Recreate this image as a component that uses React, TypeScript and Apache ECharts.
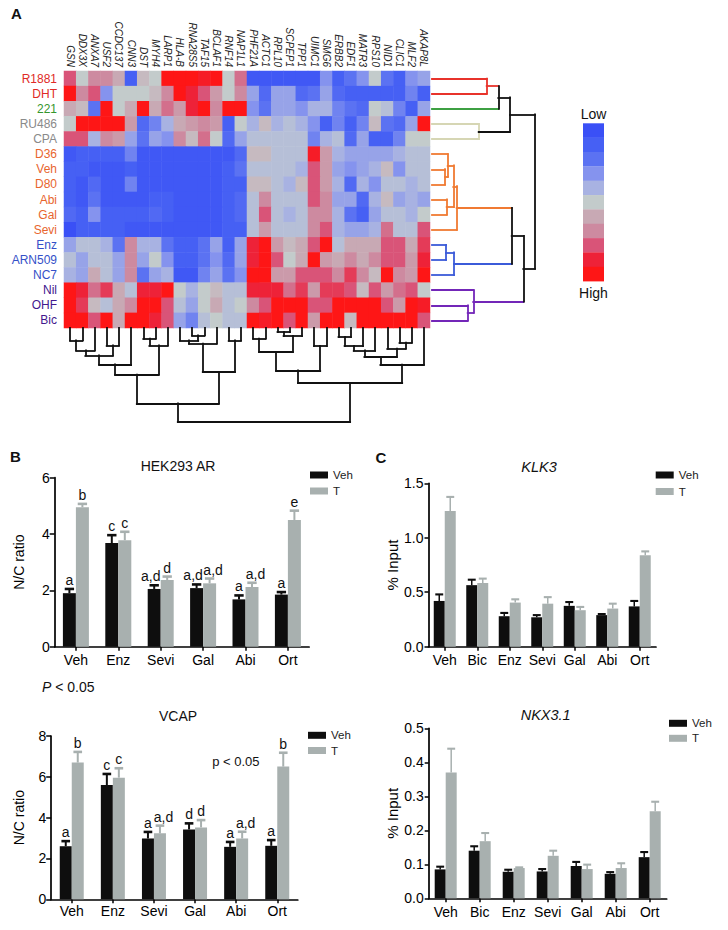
import React, { useEffect, useRef } from "react";
import * as echarts from "echarts";

const FONT = '"Liberation Sans", Arial, Helvetica, sans-serif';

// ---------------- Panel A data ----------------
const genes = ["GSN","DDX3X","ANXA7","USF2","CCDC137","CNN3","DST","MYH4","LARP1","HLA-B","RNA28S5","TAF15","BCLAF1","RNF14","NAP1L1","PHF21A","ACTC1","RPL10","SCPEP1","TPP1","UIMC1","SMG6","ERBB2","EDF1","MATR3","RPS10","NID1","CLIC1","MLF2","AKAP8L"];
const treatments = ["R1881","DHT","221","RU486","CPA","D36","Veh","D80","Abi","Gal","Sevi","Enz","ARN509","NC7","Nil","OHF","Bic"];
const treatmentGroup = [0,0,1,2,2,3,3,3,3,3,3,4,4,4,5,5,5];

const heatRows: number[][] = [
  [3,0,2,2,1,-4,0.5,0,5,5,5,4.5,5,0,2.5,-4.5,-4.5,-4.5,-4.5,-4.5,-4.5,-2,-4,-3,-2,0,-3,-4,-2,-1.5],
  [5,2,3,-2,0,0,0,0.5,2,5,4,3,1.5,0,2,-1.5,-3.5,-1.5,-1.5,-3.5,-3,-1.5,-3.5,-4,-4,-4,-4,-4,-2.5,-4],
  [1,0.5,-3,5,0,1,5,1,2.5,1.5,4,5,2,5,5,-2,-3,-1.5,-1.5,-2,-1,-1,-2.5,-3,-3.5,0,-0.5,-2.5,-4,-1.5],
  [0,5,5,5,5,1.5,-3.5,-2.5,-1,1,1.5,2,1.5,-4,0,-1,0.5,-1,-0.5,-1,-2,-4,-2.5,-4,-2.5,0.5,-3,-3.5,-1.5,5],
  [3,3,-1,2,1.5,-1.5,-3,-1.5,-2,2,0.5,2.5,0,-3.5,-1.5,-0.5,-0.5,-0.5,-0.5,-0.5,-2.5,-1,-0.5,-3.5,-1.5,-4,-4,-2.5,0,0],
  [-4.5,-4,-4,-4,-4,-2.5,-4.5,-4.5,-4.5,-4.5,-4.5,-4.5,-4.5,-4.5,-3.5,0.5,0.5,-0.5,-0.5,-0.5,4.5,1.5,-1,-1.5,-1.5,-1.5,-1.5,-1,-0.5,-0.5],
  [-4,-4,-4.5,-4.5,-4.5,-4,-4.5,-4.5,-4.5,-4.5,-4.5,-4.5,-4.5,-4,-3,-0.5,-0.5,-0.5,-0.5,-1,3,1.5,-1.5,-2,-1.5,-1,0.5,-2,-0.5,-0.5],
  [-4,-4.5,-3.5,-4.5,-4.5,-2.5,-4.5,-4.5,-4.5,-4.5,-4.5,-4.5,-4.5,-4,-4,0.5,0.5,-0.5,-1,0.5,3,1.5,-1,-3.5,-1,-2,-0.5,-0.5,-1,-0.5],
  [-4,-4.5,-3,-4.5,-4.5,-4.5,-4.5,-4,-4,-4.5,-4.5,-4.5,-4.5,-4,-3.5,-0.5,2,-0.5,-0.5,-0.5,3,2,-1.5,-1.5,-3.5,-1,0.5,-1.5,-1,-1.5],
  [-3.5,-4,-2,-4,-4,-4,-4,-3.5,-4,-4.5,-4.5,-4.5,-4.5,-4,-3.5,-0.5,3,-0.5,-1,-0.5,2,2,-1,-3,-4,-1.5,-0.5,-0.5,-1,0],
  [-5,-4,-4,-4,-4,-4.5,-4.5,-4.5,-4.5,-4.5,-4.5,-4.5,-4.5,-4,-4,-0.5,1.5,-0.5,-0.5,-0.5,2,3,-1,-1.5,-1.5,-1,2.5,-0.5,-0.5,3],
  [-1.5,-0.5,-0.5,-1,-3,2,-1,-1,-3,-4,-4,-3,-1.5,-4,-1.5,4,5,1.5,0.5,1,3,5,-0.5,1,1,1,3,3,1,3.5],
  [-0.5,-1.5,-0.5,-0.5,-1.5,2,-1.5,0,-2,-4,-4,-3,-2,-3.5,-1.5,4,5,3,0,1,5,1.5,1,2,1,2,3,3,1.5,4],
  [-1,-1.5,1,-0.5,-1.5,2,-3,-1.5,-1,-4.5,-4.5,-2.5,-1.5,-3,-2,5,5,1.5,1.5,3,3,3,2,3.5,2,0.5,5,2,1.5,5],
  [5,4,2.5,3.5,1,-0.5,4,4,5,0,-1,0,0.5,-0.5,-0.5,4,4,4,2.5,3.5,1.5,3.5,3.5,3,0.5,3,1.5,2.5,3,0],
  [5,3.5,0.5,-0.5,1,2,5,5,3,-0.5,-1.5,0,1,-0.5,0,2,3,5,5,5,3,3,5,5,5,5,3,1.5,5,4.5],
  [5,5,3,5,1,5,5,4,3,-1.5,-2.5,-0.5,0,-0.5,-0.5,5,4.5,5,3,5,1.5,5,5,0.5,5,5,5,5,5,3],
];

// row dendrogram: [childA, childB, height]; leaves 0..16, merges 17..
const rowMerges: number[][] = [
  [0,1,54.7],[17,2,66.3],[3,4,46.7],[18,19,78],
  [6,7,13],[5,21,15.7],[8,9,14.7],[22,23,21.3],[24,10,24.7],
  [11,12,14],[26,13,22],[25,27,79.7],
  [15,16,35.7],[14,29,41.3],[28,30,91.3],[20,31,103],
];
// column dendrogram: leaves 0..29, merges 30..
const colMerges: number[][] = [
  [0,1,12.3],[30,2,22.3],[3,4,17.3],[31,32,27.3],[33,5,36.3],
  [6,7,10.7],[35,8,17.3],[34,36,46.7],
  [10,11,7.3],[9,38,12.3],[39,12,15.7],[13,14,12.3],[40,41,44],[37,42,75.3],
  [15,16,10.7],[17,18,4],[45,19,8],[44,46,24],[20,21,18],[47,48,42.3],
  [22,23,9],[50,24,18],[51,25,22.3],[27,28,14.7],[26,53,20.7],[52,54,29],[55,29,36.7],
  [49,56,55],[43,57,93.7],
];

// ---------------- Panel B data ----------------
const catsB = ["Veh","Enz","Sevi","Gal","Abi","Ort"];
const hekVeh = [1.9,3.68,2.05,2.08,1.68,1.85];
const hekVehErr = [0.15,0.28,0.13,0.13,0.14,0.09];
const hekT = [4.95,3.78,2.37,2.25,2.12,4.5];
const hekTErr = [0.12,0.3,0.12,0.17,0.15,0.33];
const hekVehLetters = ["a","c","a,d","a,d","a","a"];
const hekTLetters = ["b","c","d","a,d","a,d","e"];

const vcapVeh = [2.6,5.6,2.98,3.42,2.57,2.62];
const vcapVehErr = [0.25,0.54,0.32,0.3,0.24,0.28];
const vcapT = [6.7,5.96,3.23,3.52,2.98,6.5];
const vcapTErr = [0.52,0.46,0.38,0.36,0.33,0.68];
const vcapVehLetters = ["a","c","a","d","a","a"];
const vcapTLetters = ["b","c","a,d","d","a,d","b"];

// ---------------- Panel C data ----------------
const catsC = ["Veh","Bic","Enz","Sevi","Gal","Abi","Ort"];
const klkVeh = [0.42,0.565,0.28,0.27,0.375,0.29,0.37];
const klkVehErr = [0.06,0.05,0.03,0.02,0.035,0.01,0.05];
const klkT = [1.245,0.585,0.405,0.395,0.335,0.35,0.84];
const klkTErr = [0.13,0.04,0.03,0.06,0.03,0.045,0.035];

const nkxVeh = [0.085,0.14,0.078,0.079,0.095,0.072,0.121];
const nkxVehErr = [0.008,0.013,0.006,0.007,0.012,0.005,0.015];
const nkxT = [0.37,0.168,0.089,0.125,0.086,0.089,0.256];
const nkxTErr = [0.07,0.024,0.002,0.015,0.013,0.014,0.028];

// ---------------- styles ----------------
const heatScale = ["#3a50f6","#4660f4","#5b72f2","#8593ee","#a8b2e2","#c3cbcb","#c8a9b4","#cd8aa0","#d95478","#ee2238","#fe1616"];
const labelColors = ["#e02a26","#34962c","#8a8a8a","#e8652e","#3450c8","#42188e"];
const RED = "#e8332b", GREEN = "#3ea043", BEIGE = "#d6d6b4", OR = "#f07a32", BL = "#3b5bd9", PU = "#7326b8", K = "#111111";
const rowArmColors = [RED,RED,GREEN,BEIGE,BEIGE,OR,OR,OR,OR,OR,OR,BL,BL,BL,PU,PU,PU,
  RED,K,K,K,OR,OR,OR,OR,OR,BL,BL,K,PU,PU,K,K];
const rowVertColors = [RED,K,BEIGE,K,OR,OR,OR,OR,OR,BL,BL,K,PU,PU,K,K];
const BLACK_BAR = "#0e0e0e";
const GRAY_BAR = "#a8b0af";

function dendroSegments(nLeaves: number, merges: number[][], horizontal: boolean, armColors?: string[], vertColors?: string[]) {
  const pos: number[] = [];
  const hgt: number[] = [];
  for (let i = 0; i < nLeaves; i++) { pos.push(i); hgt.push(0); }
  const segs: any[] = [];
  const P = (p: number, h: number) => (horizontal ? [h, p] : [p, h]);
  merges.forEach(([a, b, h], k) => {
    const node = nLeaves + k;
    pos[node] = (pos[a] + pos[b]) / 2;
    hgt[node] = h;
    const cA = armColors ? armColors[a] : K;
    const cB = armColors ? armColors[b] : K;
    const cV = vertColors ? vertColors[k] : K;
    segs.push({ coords: [P(pos[a], hgt[a]), P(pos[a], h)], lineStyle: { color: cA } });
    segs.push({ coords: [P(pos[b], hgt[b]), P(pos[b], h)], lineStyle: { color: cB } });
    segs.push({ coords: [P(pos[a], h), P(pos[b], h)], lineStyle: { color: cV } });
  });
  return segs;
}

function errSeries(axis: number, means: number[], errs: number[], letters: string[] | null, side: number, color: string, bw: number, capW: number, lw: number) {
  return {
    type: "custom",
    xAxisIndex: axis,
    yAxisIndex: axis,
    z: 5,
    silent: true,
    data: means.map((m, i) => [i, m, errs[i]]),
    renderItem: (params: any, api: any) => {
      const i = api.value(0);
      const m = api.value(1);
      const e = api.value(2);
      const base = api.coord([i, m]);
      const top = api.coord([i, m + e]);
      const x = base[0] + (side * bw) / 2;
      const children: any[] = [
        { type: "line", shape: { x1: x, y1: base[1], x2: x, y2: top[1] }, style: { stroke: color, lineWidth: lw } },
        { type: "line", shape: { x1: x - capW / 2, y1: top[1], x2: x + capW / 2, y2: top[1] }, style: { stroke: color, lineWidth: lw + 0.6 } },
      ];
      if (letters) {
        const label = letters[params.dataIndex];
        const shift = label.length > 1 ? side * 3.5 : 0;
        children.push({
          type: "text", x: x + shift, y: top[1] - 2,
          style: { text: label, align: "center", verticalAlign: "bottom", fontSize: 14, fontFamily: FONT, fill: "#111" },
        });
      }
      return { type: "group", children };
    },
  };
}

type PanelCfg = {
  axis: number; cats: string[]; max: number; interval: number; decimals: number;
  veh: number[]; vehErr: number[]; t: number[]; tErr: number[];
  vehLetters: string[] | null; tLetters: string[] | null;
  bw: number; lw: number; name: string; nameGap: number; labelMargin: number; yTick: number; yLabelSize: number; nameSize: number;
};

function panel(c: PanelCfg) {
  const xAxis = {
    type: "category", gridIndex: c.axis, data: c.cats,
    axisLine: { show: true, lineStyle: { color: "#000", width: 1.7 } },
    axisTick: { show: true, alignWithLabel: true, length: 4, lineStyle: { color: "#000", width: 1.5 } },
    axisLabel: { fontSize: 14, color: "#000", fontFamily: FONT, margin: c.labelMargin, interval: 0 },
    splitLine: { show: false },
  };
  const yAxis = {
    type: "value", gridIndex: c.axis, min: 0, max: c.max, interval: c.interval,
    name: c.name, nameLocation: "middle", nameGap: c.nameGap, nameRotate: 90,
    nameTextStyle: { fontSize: c.nameSize, color: "#000", fontFamily: FONT },
    axisLine: { show: true, lineStyle: { color: "#000", width: 1.7 } },
    axisTick: { show: true, length: c.yTick, lineStyle: { color: "#000", width: 1.5 } },
    axisLabel: { fontSize: c.yLabelSize, color: "#000", fontFamily: FONT, margin: 5, formatter: (v: number) => v.toFixed(c.decimals) },
    splitLine: { show: false },
  };
  const series = [
    { type: "bar", name: "Veh", xAxisIndex: c.axis, yAxisIndex: c.axis, data: c.veh, barWidth: c.bw, barGap: "0%", itemStyle: { color: BLACK_BAR }, silent: true },
    { type: "bar", name: "T", xAxisIndex: c.axis, yAxisIndex: c.axis, data: c.t, barWidth: c.bw, barGap: "0%", itemStyle: { color: GRAY_BAR }, silent: true },
    errSeries(c.axis, c.veh, c.vehErr, c.vehLetters, -1, BLACK_BAR, c.bw, c.bw * 0.72, c.lw),
    errSeries(c.axis, c.t, c.tErr, c.tLetters, 1, GRAY_BAR, c.bw, c.bw * 0.72, c.lw),
  ];
  return { xAxis, yAxis, series };
}

function legendAt(left: number, top: number, gap: number) {
  return {
    data: ["Veh", "T"], orient: "vertical", left, top, padding: 0,
    itemWidth: 18, itemHeight: 7, itemGap: gap, itemTextGap: 5, icon: "rect", selectedMode: false,
    textStyle: { fontSize: 11.5, color: "#222", fontFamily: FONT, lineHeight: 12 },
  };
}

function buildOption() {
  const heatData: number[][] = [];
  heatRows.forEach((row, r) => row.forEach((v, c) => heatData.push([c, r, v])));

  const rowSegs = dendroSegments(treatments.length, rowMerges, true, rowArmColors, rowVertColors);
  const colSegs = dendroSegments(genes.length, colMerges, false);

  const pB1 = panel({ axis: 3, cats: catsB, max: 6, interval: 2, decimals: 0, veh: hekVeh, vehErr: hekVehErr, t: hekT, tErr: hekTErr,
    vehLetters: hekVehLetters, tLetters: hekTLetters, bw: 13, lw: 2, name: "N/C ratio", nameGap: 29, labelMargin: 6, yTick: 5, yLabelSize: 14, nameSize: 14 });
  const pB2 = panel({ axis: 4, cats: catsB, max: 8, interval: 2, decimals: 0, veh: vcapVeh, vehErr: vcapVehErr, t: vcapT, tErr: vcapTErr,
    vehLetters: vcapVehLetters, tLetters: vcapTLetters, bw: 12, lw: 2, name: "N/C ratio", nameGap: 25, labelMargin: 5, yTick: 5, yLabelSize: 14, nameSize: 14 });
  const pC1 = panel({ axis: 5, cats: catsC, max: 1.5, interval: 0.5, decimals: 1, veh: klkVeh, vehErr: klkVehErr, t: klkT, tErr: klkTErr,
    vehLetters: null, tLetters: null, bw: 11, lw: 1.5, name: "% Input", nameGap: 25, labelMargin: 6, yTick: 4, yLabelSize: 14, nameSize: 15 });
  const pC2 = panel({ axis: 6, cats: catsC, max: 0.5, interval: 0.1, decimals: 1, veh: nkxVeh, vehErr: nkxVehErr, t: nkxT, tErr: nkxTErr,
    vehLetters: null, tLetters: null, bw: 11, lw: 1.5, name: "% Input", nameGap: 27, labelMargin: 7, yTick: 4, yLabelSize: 14, nameSize: 15 });

  const colorbar = heatScale.map((col, i) => ({
    type: "rect", shape: { x: 583, y: 123.3 + i * 14.35, width: 21, height: 14.6 }, style: { fill: col }, silent: true,
  }));

  const txt = (text: string, x: number, y: number, size: number, extra: any = {}) => ({
    type: "text", x, y, silent: true,
    style: { text, fontSize: size, fontFamily: FONT, fill: "#111", align: "center", verticalAlign: "middle", ...extra },
  });

  const hiddenValue = (gridIndex: number, min: number, max: number, inverse = false) => ({
    type: "value", gridIndex, min, max, inverse, show: false, splitLine: { show: false },
  });

  return {
    animation: false,
    backgroundColor: "#ffffff",
    textStyle: { fontFamily: FONT },
    grid: [
      { left: 64, top: 71, width: 366, height: 257, containLabel: false },
      { left: 432, top: 71, width: 103, height: 257, containLabel: false },
      { left: 64, top: 328, width: 366, height: 94, containLabel: false },
      { left: 54.7, top: 477.7, width: 254.4, height: 169, containLabel: false },
      { left: 51.2, top: 736, width: 246.6, height: 163.3, containLabel: false },
      { left: 428.5, top: 483.3, width: 227.5, height: 163.4, containLabel: false },
      { left: 428.7, top: 728.3, width: 238, height: 170, containLabel: false },
    ],
    xAxis: [
      {
        type: "category", gridIndex: 0, data: genes, position: "top",
        axisLine: { show: false }, axisTick: { show: false }, splitLine: { show: false },
        axisLabel: { rotate: 90, interval: 0, fontSize: 10, fontStyle: "italic", color: "#222", fontFamily: FONT, margin: 4 },
      },
      hiddenValue(1, 0, 103),
      hiddenValue(2, -0.5, 29.5),
      pB1.xAxis, pB2.xAxis, pC1.xAxis, pC2.xAxis,
    ],
    yAxis: [
      {
        type: "category", gridIndex: 0, data: treatments, inverse: true,
        axisLine: { show: false }, axisTick: { show: false }, splitLine: { show: false },
        axisLabel: {
          interval: 0, fontSize: 12, fontFamily: FONT, margin: 7,
          color: (_v: any, idx: number) => labelColors[treatmentGroup[idx]],
        },
      },
      hiddenValue(1, -0.5, 16.5, true),
      hiddenValue(2, 0, 94, true),
      pB1.yAxis, pB2.yAxis, pC1.yAxis, pC2.yAxis,
    ],
    visualMap: {
      type: "continuous", show: false, min: -5, max: 5, dimension: 2, seriesIndex: 0,
      inRange: { color: heatScale },
    },
    legend: [
      legendAt(310, 469, 4),
      legendAt(308, 729.3, 3.2),
      legendAt(655.7, 469, 4.5),
      legendAt(669, 717.3, 3),
    ],
    series: [
      {
        type: "heatmap", xAxisIndex: 0, yAxisIndex: 0, data: heatData, silent: true,
        itemStyle: { borderWidth: 0 }, emphasis: { disabled: true }, progressive: 0,
      },
      {
        type: "lines", coordinateSystem: "cartesian2d", xAxisIndex: 1, yAxisIndex: 1, data: rowSegs, silent: true,
        lineStyle: { width: 1.8, opacity: 1, cap: "square" }, z: 3,
      },
      {
        type: "lines", coordinateSystem: "cartesian2d", xAxisIndex: 2, yAxisIndex: 2, data: colSegs, silent: true,
        lineStyle: { width: 1.8, opacity: 1, color: K, cap: "square" }, z: 3,
      },
      ...pB1.series, ...pB2.series, ...pC1.series, ...pC2.series,
    ],
    graphic: [
      ...colorbar,
      txt("Low", 593.5, 114, 14),
      txt("High", 593.5, 292.5, 14),
      txt("A", 11, 13.5, 15, { align: "left", fontWeight: "bold" }),
      txt("B", 10, 456.5, 15, { align: "left", fontWeight: "bold" }),
      txt("C", 375.5, 457, 15, { align: "left", fontWeight: "bold" }),
      txt("HEK293 AR", 178, 466, 14),
      txt("VCAP", 178, 715.7, 14),
      txt("KLK3", 539, 467.3, 14.5, { fontStyle: "italic" }),
      txt("NKX3.1", 545.7, 715, 14.5, { fontStyle: "italic" }),
      {
        type: "text", x: 42, y: 686.7, silent: true,
        style: {
          text: "{i|P} < 0.05", fontSize: 14, fontFamily: FONT, fill: "#111", align: "left", verticalAlign: "middle",
          rich: { i: { fontStyle: "italic", fontSize: 14, fontFamily: FONT, fill: "#111" } },
        },
      },
      txt("p < 0.05", 235.8, 761.7, 13),
    ],
  };
}

export default function App() {
  const ref = useRef<HTMLDivElement>(null);
  useEffect(() => {
    if (!ref.current) return;
    const chart = echarts.init(ref.current, null, { renderer: "svg" });
    chart.setOption(buildOption() as any);
    return () => chart.dispose();
  }, []);
  return (
    <div
      ref={ref}
      style={{ position: "absolute", left: 0, top: 0, width: 728, height: 930, background: "#fff" }}
    />
  );
}
